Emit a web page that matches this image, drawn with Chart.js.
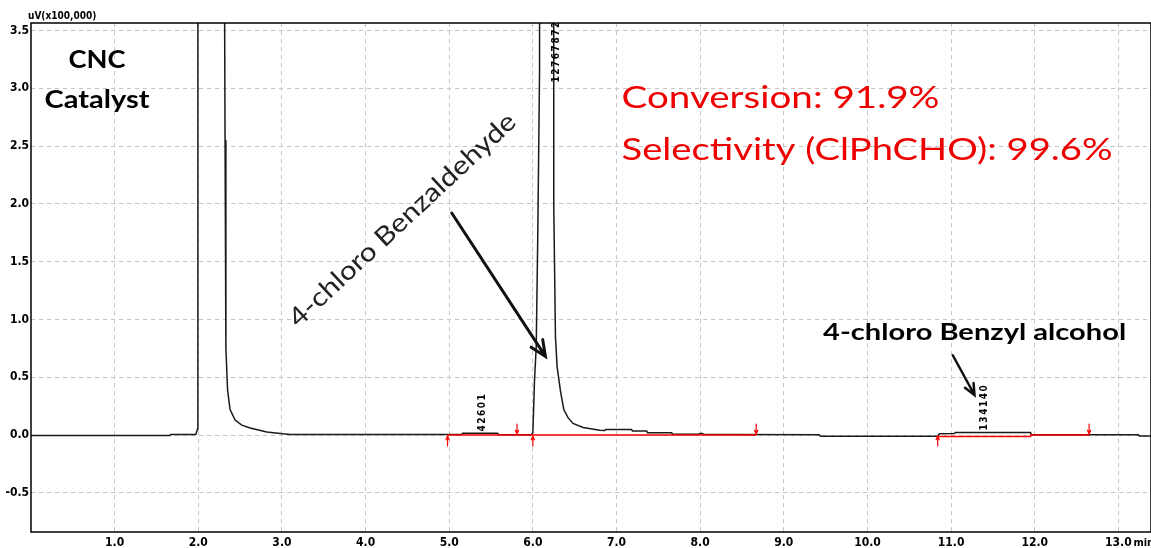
<!DOCTYPE html>
<html>
<head>
<meta charset="utf-8">
<script src="https://cdn.jsdelivr.net/npm/chart.js@4.4.0/dist/chart.umd.min.js"></script>
<style>
  body { margin: 0; background: #fff; }
  #wrap { width: 1151px; height: 548px; }
</style>
</head>
<body>
<div id="wrap"><canvas id="gc" width="1151" height="548"></canvas></div>
<script>
// GC trace: retention time (min) and detector signal (uV x100,000)
// the two big peaks go off scale, their tops are only guesses
const traceTime = [0.00, 1.66, 1.67, 1.97, 1.99, 1.995, 2.00, 2.31, 2.315, 2.32, 2.33, 2.35, 2.38, 2.44, 2.52, 2.62, 2.82, 3.01, 3.10,
  5.15, 5.16, 5.58, 5.59, 5.98, 6.00, 6.02, 6.04, 6.06, 6.08, 6.09, 6.24, 6.25, 6.27, 6.29, 6.33, 6.37, 6.42, 6.48, 6.60, 6.80, 6.86,
  6.87, 7.18, 7.19, 7.36, 7.37, 7.66, 7.67, 7.98, 8.00, 8.03, 8.04, 8.40, 9.42, 9.44, 10.84, 10.86, 11.04, 11.05, 11.95, 11.96,
  13.24, 13.25, 13.40];
const traceSignal = [-0.004, -0.004, 0.004, 0.005, 0.05, 0.4, 40, 40, 3.6, 2.55, 0.75, 0.39, 0.22, 0.13, 0.085, 0.06, 0.026, 0.01, 0.005,
  0.005, 0.015, 0.015, 0.004, 0.003, 0.02, 0.48, 0.76, 1.8, 3.16, 40, 40, 1.97, 0.85, 0.59, 0.38, 0.22, 0.15, 0.10, 0.065, 0.042, 0.04,
  0.048, 0.048, 0.035, 0.035, 0.02, 0.02, 0.006, 0.006, 0.012, 0.012, 0.005, 0.004, 0.003, -0.01, -0.01, 0.01, 0.012, 0.022, 0.022, 0.003,
  0.003, -0.008, -0.008];

// integration baselines
const baseTime = [4.98, 8.67, 8.67, 10.84, 11.95, 11.95, 12.65];
const baseSignal = [0.0, 0.0, null, -0.012, -0.012, 0.0, 0.0];
const startMarks = [4.98, 6.00, 10.84];
const endMarks = [5.81, 8.67, 12.65];

// peak areas printed next to the peaks
const peakAreas = ['42601', '12767872', '134140'];
const peakAreaTime = [5.40, 6.28, 11.40];
const peakAreaSignal = [0.03, 3.05, 0.04];

const xTickValues = [1, 2, 3, 4, 5, 6, 7, 8, 9, 10, 11, 12, 13];
const xTickLabels = ['1.0', '2.0', '3.0', '4.0', '5.0', '6.0', '7.0', '8.0', '9.0', '10.0', '11.0', '12.0', '13.0'];
const yTickValues = [-0.5, 0.0, 0.5, 1.0, 1.5, 2.0, 2.5, 3.0, 3.5];
const yTickLabels = ['-0.5', '0.0', '0.5', '1.0', '1.5', '2.0', '2.5', '3.0', '3.5'];

const tickFont = { family: 'DejaVu Sans Condensed', size: 12, weight: 'bold' };
const RED = '#ff0000';

function arrow(ctx, x1, y1, x2, y2, head, width, color) {
  const a = Math.atan2(y2 - y1, x2 - x1);
  ctx.save();
  ctx.strokeStyle = color;
  ctx.lineWidth = width;
  ctx.lineCap = 'round';
  ctx.lineJoin = 'miter';
  ctx.beginPath();
  ctx.moveTo(x1, y1);
  ctx.lineTo(x2, y2);
  ctx.moveTo(x2 - head * Math.cos(a - 0.42), y2 - head * Math.sin(a - 0.42));
  ctx.lineTo(x2, y2);
  ctx.lineTo(x2 - head * Math.cos(a + 0.42), y2 - head * Math.sin(a + 0.42));
  ctx.stroke();
  ctx.restore();
}

// text squeezed/stretched horizontally to a given width (the original looks stretched)
function wideText(ctx, txt, x, y, width, angle) {
  const s = width / ctx.measureText(txt).width;
  ctx.save();
  ctx.translate(x, y);
  if (angle) ctx.rotate(angle);
  ctx.scale(s, 1);
  ctx.fillText(txt, 0, 0);
  ctx.restore();
}

const decor = {
  id: 'decor',
  afterDatasetsDraw(chart) {
    const { ctx, chartArea: area, scales: { x, y } } = chart;
    const X = t => x.getPixelForValue(t);
    const Y = v => y.getPixelForValue(v);

    // integration start / end marks
    startMarks.forEach(t => arrow(ctx, X(t), Y(0) + 11, X(t), Y(0) + 1, 4, 1.2, RED));
    endMarks.forEach(t => arrow(ctx, X(t), Y(0) - 11, X(t), Y(0) - 1, 4, 1.2, RED));

    // peak areas, rotated
    ctx.save();
    ctx.beginPath();
    ctx.rect(area.left, area.top, area.right - area.left, area.bottom - area.top);
    ctx.clip();
    ctx.fillStyle = '#000';
    ctx.font = 'bold 10px "DejaVu Sans Condensed"';
    ctx.letterSpacing = '1.5px';
    ctx.textBaseline = 'middle';
    ctx.textAlign = 'left';
    peakAreas.forEach((txt, i) => {
      ctx.save();
      ctx.translate(X(peakAreaTime[i]), Y(peakAreaSignal[i]));
      ctx.rotate(-Math.PI / 2);
      ctx.fillText(txt, 0, 0);
      ctx.restore();
    });
    ctx.restore();

    // annotations
    ctx.save();
    ctx.fillStyle = '#000';
    ctx.textBaseline = 'alphabetic';
    ctx.font = 'bold 25px Lato';
    ctx.textAlign = 'center';
    wideText(ctx, 'CNC', X(0.79), Y(3.175), 57);
    wideText(ctx, 'Catalyst', X(0.79), Y(2.83), 105);

    ctx.fillStyle = '#ee0000';
    ctx.textAlign = 'left';
    ctx.font = '30px Lato';
    wideText(ctx, 'Conversion: 91.9%', X(7.06), Y(2.83), 318);
    wideText(ctx, 'Selectivity (ClPhCHO): 99.6%', X(7.06), Y(2.38), 491);

    ctx.fillStyle = '#000';
    ctx.font = 'bold 23px Lato';
    wideText(ctx, '4-chloro Benzyl alcohol', X(9.47), Y(0.82), 303);

    ctx.fillStyle = '#222';
    ctx.font = '26px Lato';
    ctx.textAlign = 'center';
    ctx.textBaseline = 'middle';
    wideText(ctx, '4-chloro Benzaldehyde', X(4.44), Y(1.86), 300, -43 * Math.PI / 180);
    ctx.restore();

    arrow(ctx, X(5.03), Y(1.92), X(6.15), Y(0.68), 17, 3, '#111');
    arrow(ctx, X(11.02), Y(0.69), X(11.28), Y(0.346), 12, 2.5, '#111');

    // frame and axis texts
    ctx.save();
    ctx.strokeStyle = '#000';
    ctx.lineWidth = 1.5;
    ctx.strokeRect(area.left, area.top, area.right - area.left, area.bottom - area.top);
    ctx.fillStyle = '#000';
    ctx.font = 'bold 10px "DejaVu Sans Condensed"';
    ctx.textAlign = 'left';
    ctx.textBaseline = 'alphabetic';
    ctx.fillText('uV(x100,000)', area.left - 3, area.top - 4);
    ctx.font = 'bold 11px "DejaVu Sans Condensed"';
    ctx.textBaseline = 'middle';
    ctx.fillText('min', X(13) + 15, area.bottom + 11);
    ctx.restore();
  }
};

const ctx = document.getElementById('gc').getContext('2d');
const chart = new Chart(ctx, {
  type: 'line',
  data: {
    datasets: [
      {
        data: baseTime.map((t, i) => ({ x: t, y: baseSignal[i] })),
        borderColor: RED,
        borderWidth: 1.5,
        pointRadius: 0,
        spanGaps: false,
        clip: 0
      },
      {
        data: traceTime.map((t, i) => ({ x: t, y: traceSignal[i] })),
        borderColor: '#1a1a1a',
        borderWidth: 1.5,
        pointRadius: 0,
        tension: 0,
        clip: 0
      }
    ]
  },
  options: {
    responsive: false,
    animation: false,
    devicePixelRatio: 1,
    layout: { padding: { top: 23, right: 0, left: 0, bottom: 0 } },
    plugins: { legend: { display: false }, tooltip: { enabled: false } },
    scales: {
      x: {
        type: 'linear',
        min: 0,
        max: 13.39,
        afterFit: s => { s.height = 16; },
        afterBuildTicks: s => { s.ticks = xTickValues.map(v => ({ value: v })); },
        ticks: {
          color: '#000',
          font: tickFont,
          padding: 4,
          maxRotation: 0,
          autoSkip: false,
          callback: (v) => xTickLabels[xTickValues.indexOf(v)]
        },
        grid: { color: '#c4c4c4', drawTicks: false, lineWidth: 1 },
        border: { display: false, dash: [4, 4] }
      },
      y: {
        min: -0.839,
        max: 3.564,
        afterFit: s => { s.width = 31; },
        afterBuildTicks: s => { s.ticks = yTickValues.map(v => ({ value: v })); },
        ticks: {
          color: '#000',
          font: tickFont,
          padding: 2,
          autoSkip: false,
          callback: (v) => yTickLabels[yTickValues.indexOf(v)]
        },
        grid: { color: '#c4c4c4', drawTicks: false, lineWidth: 1 },
        border: { display: false, dash: [4, 4] }
      }
    }
  },
  plugins: [decor]
});
</script>
</body>
</html>
